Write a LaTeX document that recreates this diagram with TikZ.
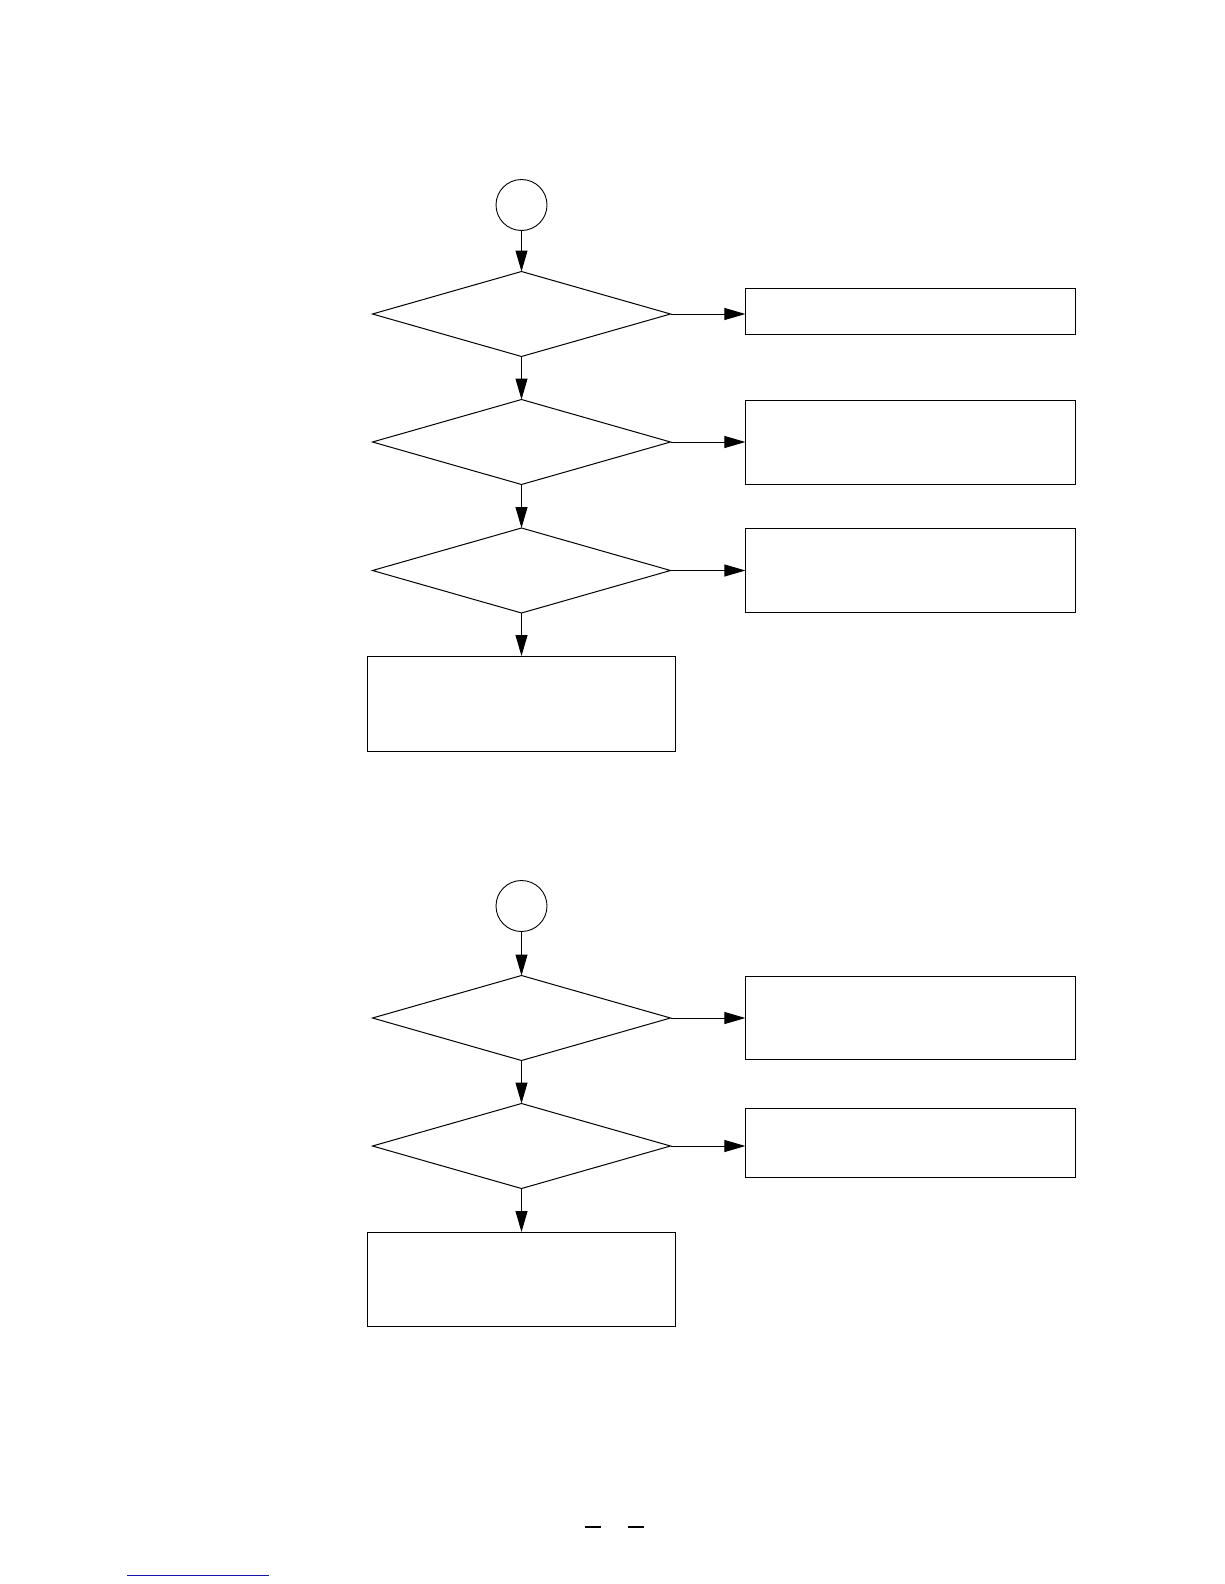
\documentclass[tikz,border=0pt]{standalone}
\usetikzlibrary{shapes.geometric,arrows.meta}
\begin{document}
\begin{tikzpicture}[x=1pt,y=-1pt,
  dec/.style={diamond,draw,line width=1pt,minimum width=298pt,minimum height=85pt,inner sep=0pt,outer sep=0pt},
  box/.style={rectangle,draw,line width=1pt,inner sep=0pt,outer sep=0pt},
  conn/.style={circle,draw,line width=0.9pt,minimum size=51pt,inner sep=0pt,outer sep=0pt},
  arr/.style={line width=1pt,-{Triangle[length=21pt,width=12pt]}}]
\useasboundingbox (0,0) rectangle (1224,1584);
% first chart
\node[conn] (c1) at (521.5,205) {};
\node[dec] (d1) at (521.5,314) {};
\node[dec] (d2) at (521.5,442) {};
\node[dec] (d3) at (521.5,570.5) {};
\node[box,minimum width=330pt,minimum height=46pt] (b1) at (910.4,311) {};
\node[box,minimum width=330pt,minimum height=84pt] (b2) at (910.4,442) {};
\node[box,minimum width=330pt,minimum height=84pt] (b3) at (910.4,570) {};
\node[box,minimum width=308pt,minimum height=95pt] (b4) at (521.5,703.5) {};
\draw[arr] (c1.south) -- (d1.north);
\draw[arr] (d1.south) -- (d2.north);
\draw[arr] (d2.south) -- (d3.north);
\draw[arr] (d3.south) -- (d3.south |- b4.north);
\draw[arr] (d1.east) -- (d1.east -| b1.west);
\draw[arr] (d2.east) -- (d2.east -| b2.west);
\draw[arr] (d3.east) -- (d3.east -| b3.west);
% second chart
\node[conn] (c2) at (521.5,906) {};
\node[dec] (d4) at (521.5,1018) {};
\node[dec] (d5) at (521.5,1146) {};
\node[box,minimum width=330pt,minimum height=83pt] (b5) at (910.4,1018) {};
\node[box,minimum width=330pt,minimum height=69pt] (b6) at (910.4,1143) {};
\node[box,minimum width=308pt,minimum height=94pt] (b7) at (521.5,1279) {};
\draw[arr] (c2.south) -- (d4.north);
\draw[arr] (d4.south) -- (d5.north);
\draw[arr] (d5.south) -- (d5.south |- b7.north);
\draw[arr] (d4.east) -- (d4.east -| b5.west);
\draw[arr] (d5.east) -- (d5.east -| b6.west);
% page marks
\coordinate (m1a) at (585,1527); \coordinate (m1b) at (600.5,1527);
\coordinate (m2a) at (628,1527); \coordinate (m2b) at (643.5,1527);
\draw[line width=1.3pt] (m1a) -- (m1b);
\draw[line width=1.3pt] (m2a) -- (m2b);
\coordinate (la) at (127,1575.5); \coordinate (lb) at (269,1575.5);
\draw[line width=1pt,color={rgb,255:red,20;green,20;blue,170}] (la) -- (lb);
\end{tikzpicture}
\end{document}
